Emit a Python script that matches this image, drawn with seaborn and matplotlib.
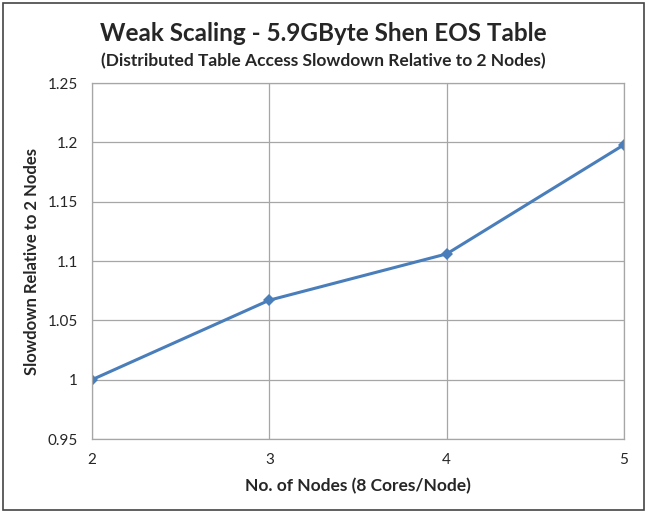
import numpy as np
import pandas as pd
import matplotlib
matplotlib.use("Agg")
import matplotlib.pyplot as plt
import matplotlib.patches as mpatches
import seaborn as sns

# datos
nodos = [2, 3, 4, 5]
slowdown = [1.0, 1.067, 1.106, 1.198]
y_ticks = [0.95, 1.0, 1.05, 1.1, 1.15, 1.2, 1.25]
y_labels = ["0.95", "1", "1.05", "1.1", "1.15", "1.2", "1.25"]

df = pd.DataFrame({"Nodos": nodos, "Slowdown": slowdown})

sns.set_style("white")
plt.rcParams['font.family'] = ['Lato', 'DejaVu Sans']

fig = plt.figure(figsize=(6.47, 5.13), dpi=100)
ax = fig.add_axes([0.1422, 0.1442, 0.8223, 0.694])

sns.lineplot(data=df, x="Nodos", y="Slowdown", ax=ax, color="#4a7ebb",
             linewidth=2.2, marker="D", markersize=6.5, markeredgewidth=0)

ax.set_xlim(2, 5)
ax.set_ylim(0.95, 1.25)
ax.set_xticks(nodos)
ax.set_yticks(y_ticks)
ax.set_yticklabels(y_labels)
ax.tick_params(axis='both', labelsize=11, length=4, width=0.9, color="#8c8c8c",
               direction='out', pad=6)
ax.grid(True, color="#a6a6a6", linewidth=0.9)
for s in ax.spines.values():
    s.set_color("#a6a6a6")
    s.set_linewidth(0.9)
ax.set_xlabel("No. of Nodes (8 Cores/Node)", fontsize=12.5, fontweight='bold', labelpad=8)
ax.set_ylabel("Slowdown Relative to 2 Nodes", fontsize=12, fontweight='bold', labelpad=6)

fig.text(0.5, 0.935, "Weak Scaling - 5.9GByte Shen EOS Table", ha='center', va='center',
         fontsize=17.5, fontweight='bold')
fig.text(0.5, 0.88, "(Distributed Table Access Slowdown Relative to 2 Nodes)", ha='center',
         va='center', fontsize=12.5, fontweight='bold')

# marco exterior
fig.patches.append(mpatches.Rectangle((0.005, 0.006), 0.99, 0.988, transform=fig.transFigure,
                                      fill=False, edgecolor="#444444", linewidth=1.2))

plt.savefig("out.png", dpi=100)
